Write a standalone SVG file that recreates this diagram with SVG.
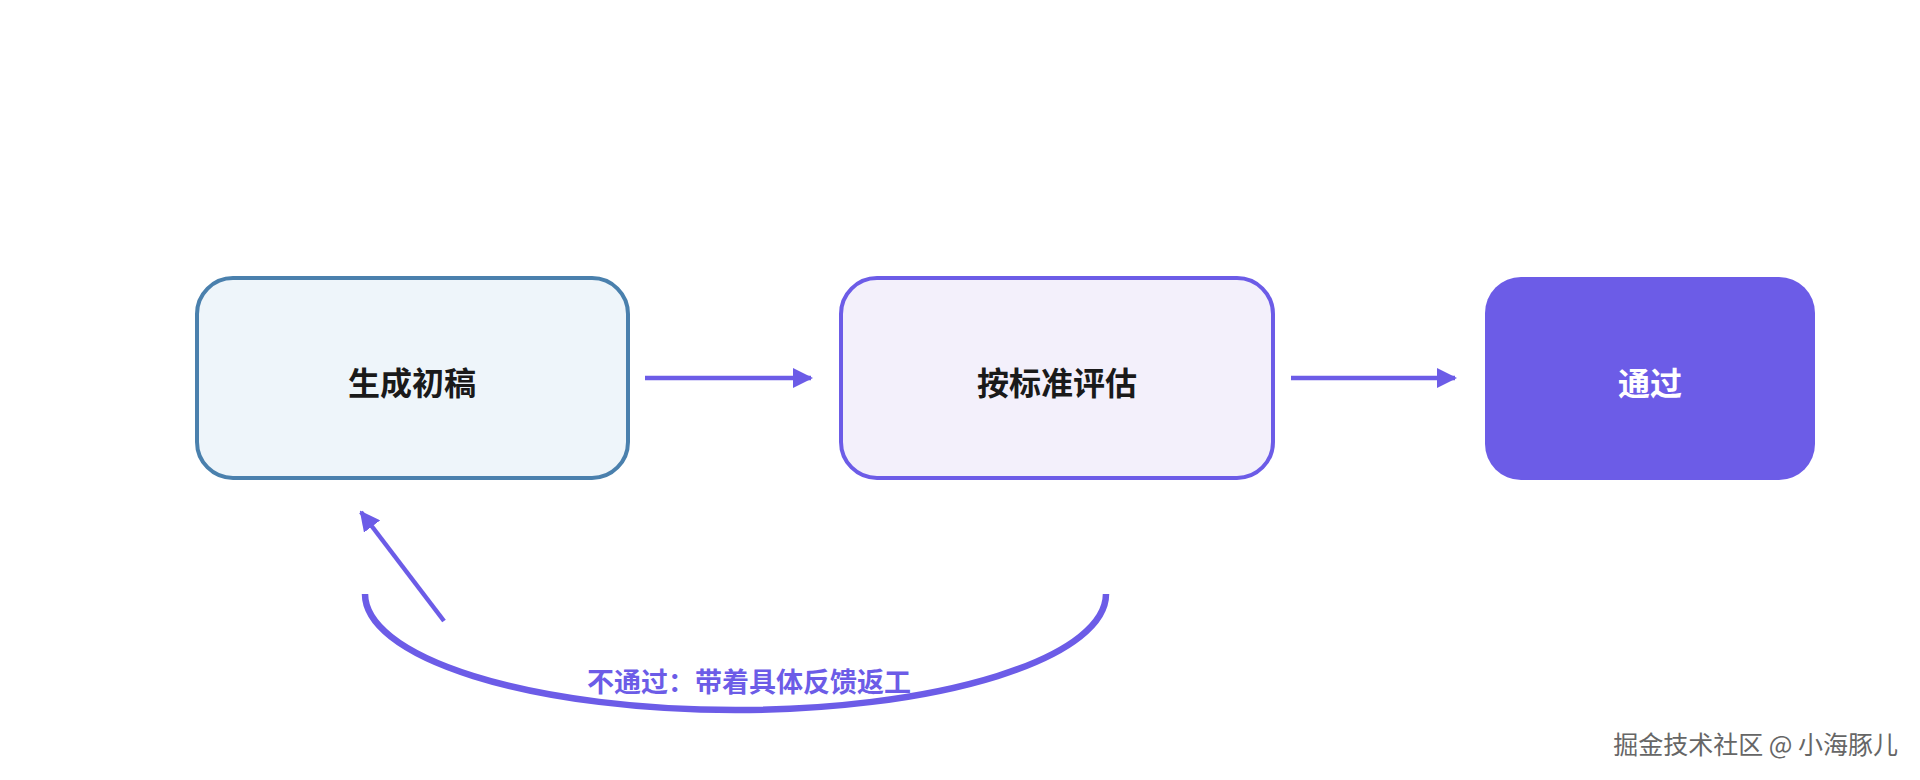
<svg xmlns="http://www.w3.org/2000/svg" width="1920" height="780" viewBox="0 0 1920 780">
<style>
.t{font-family:"Noto Sans CJK SC","Noto Sans",sans-serif;font-weight:bold;text-anchor:middle;dominant-baseline:central}
.c{stroke:#6c5ce7;stroke-width:4.5;fill:none}
</style>
<defs>
<marker id="a" viewBox="0 0 10 10" refX="9" refY="5" markerWidth="4.5" markerHeight="4.5" orient="auto" markerUnits="strokeWidth"><path d="M0,0L10,5L0,10z" fill="#6c5ce7"/></marker>
</defs>
<rect width="1920" height="780" fill="#fff"/>
<g id="n1"><rect x="197" y="278" width="431" height="200" rx="36" fill="#eef5fa" stroke="#4a80ad" stroke-width="4"/><text class="t" x="412" y="381" font-size="32" fill="#1a1a1a">生成初稿</text></g>
<g id="n2"><rect x="841" y="278" width="432" height="200" rx="36" fill="#f3f0fb" stroke="#6c5ce7" stroke-width="4"/><text class="t" x="1057" y="381" font-size="32" fill="#1a1a1a">按标准评估</text></g>
<g id="n3"><rect x="1485" y="277" width="330" height="203" rx="36" fill="#6c5ce7"/><text class="t" x="1650" y="381" font-size="32" fill="#fff">通过</text></g>
<g id="connectors">
<line class="c" x1="645" y1="378" x2="811" y2="378" marker-end="url(#a)"/>
<line class="c" x1="1291" y1="378" x2="1455" y2="378" marker-end="url(#a)"/>
<path class="c" style="stroke-width:6.5" d="M365,594 A370.5,116 0 0 0 1106,594"/>
<line class="c" x1="444" y1="621" x2="361" y2="512" marker-end="url(#a)"/>
<text class="t" x="749" y="680" font-size="27" fill="#6c5ce7">不通过：带着具体反馈返工</text>
</g>
<text x="1898" y="743" font-family="Noto Sans CJK SC,sans-serif" font-size="25" text-anchor="end" fill="#666" dominant-baseline="central">掘金技术社区 @ 小海豚儿</text>
</svg>
